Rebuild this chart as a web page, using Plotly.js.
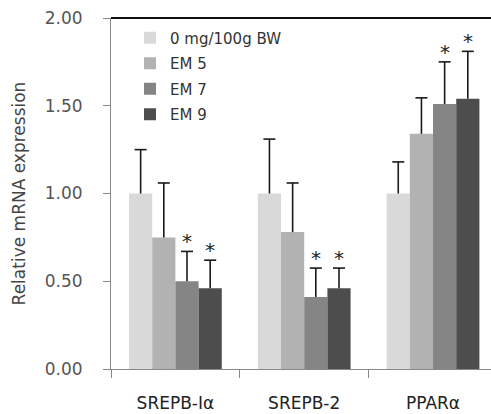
<!DOCTYPE html>
<html>
<head>
<meta charset="utf-8">
<script src="https://cdn.plot.ly/plotly-3.0.1.min.js"></script>
<style>html,body{margin:0;padding:0;background:#fff;}#chart{width:491px;height:414px;}</style>
</head>
<body>
<div id="chart"></div>
<script>
const categories = ['SREPB-Iα', 'SREPB-2', 'PPARα'];
const seriesNames = ['0 mg/100g BW', 'EM 5', 'EM 7', 'EM 9'];
const ctrl = [1.00, 1.00, 1.00];
const em5 = [0.75, 0.78, 1.34];
const em7 = [0.50, 0.41, 1.51];
const em9 = [0.46, 0.46, 1.54];
const ctrlErr = [0.25, 0.31, 0.18];
const em5Err = [0.31, 0.28, 0.205];
const em7Err = [0.17, 0.165, 0.24];
const em9Err = [0.16, 0.115, 0.27];
// significance flags (* above bar)
const ctrlSig = [false, false, false];
const em5Sig = [false, false, false];
const em7Sig = [true, true, true];
const em9Sig = [true, true, true];
const yTicks = [0, 0.5, 1.0, 1.5, 2.0];

const values = [ctrl, em5, em7, em9];
const errs = [ctrlErr, em5Err, em7Err, em9Err];
const sigs = [ctrlSig, em5Sig, em7Sig, em9Sig];
const colors = ['#d9d9d9', '#b2b2b2', '#858585', '#4d4d4d'];
const bargap = 0.28;

const traces = values.map((v, i) => ({
  type: 'bar',
  name: seriesNames[i],
  x: categories,
  y: v,
  legendgroup: 'g' + i,
  marker: {color: colors[i], line: {width: 0}}
}));

const annotations = [];
const shapes = [{type: 'line', xref: 'paper', yref: 'paper', x0: 0, x1: 1, y0: 1, y1: 1,
                 line: {color: '#111', width: 2}}];
const bw = (1 - bargap) / values.length;
values.forEach((v, i) => {
  v.forEach((val, c) => {
    const xc = c + (i - (values.length - 1) / 2) * bw;
    const top = val + errs[i][c];
    // plus-only error bar: stem + cap
    shapes.push({type: 'line', xref: 'x', yref: 'y', x0: xc, x1: xc, y0: val, y1: top,
                 line: {color: '#1a1a1a', width: 1.6}});
    shapes.push({type: 'line', xref: 'x', yref: 'y', xsizemode: 'pixel', xanchor: xc,
                 x0: -6, x1: 6, y0: top, y1: top, line: {color: '#1a1a1a', width: 1.6}});
    if (sigs[i][c]) {
      annotations.push({
        x: xc, y: top, xref: 'x', yref: 'y',
        text: '*', showarrow: false,
        yanchor: 'bottom', yshift: -4,
        font: {family: 'DejaVu Sans', size: 20, color: '#222222'}
      });
    }
  });
});

const layout = {
  width: 491, height: 414,
  margin: {l: 111, r: 0, t: 18, b: 45, pad: 0},
  paper_bgcolor: '#fff', plot_bgcolor: '#fff',
  barmode: 'group', bargap: bargap, bargroupgap: 0,
  showlegend: true,
  legend: {x: 0.05, y: 0.99, xanchor: 'left', yanchor: 'top',
           bgcolor: 'rgba(0,0,0,0)', traceorder: 'grouped', tracegroupgap: 3,
           font: {family: 'DejaVu Sans', size: 15, color: '#333'}},
  xaxis: {type: 'category', range: [-0.5, 2.45], showline: true, linecolor: '#888', linewidth: 1,
          ticks: 'outside', tickson: 'boundaries', ticklen: 8, tickcolor: '#888',
          ticklabelstandoff: 19,
          tickfont: {family: 'DejaVu Sans', size: 17, color: '#222'}, showgrid: false, zeroline: false},
  yaxis: {range: [0, 2], tickvals: yTicks, tickformat: '.2f', showline: true, linecolor: '#888', linewidth: 1,
          ticks: 'outside', ticklen: 7, tickcolor: '#888', showgrid: false, zeroline: false,
          ticklabelstandoff: 17,
          tickfont: {family: 'DejaVu Sans', size: 17, color: '#555'},
          title: {text: 'Relative mRNA expression', standoff: 14,
                  font: {family: 'DejaVu Sans', size: 17, color: '#444'}}},
  shapes: shapes,
  annotations: annotations
};

Plotly.newPlot('chart', traces, layout, {displayModeBar: false, staticPlot: true});
</script>
</body>
</html>
